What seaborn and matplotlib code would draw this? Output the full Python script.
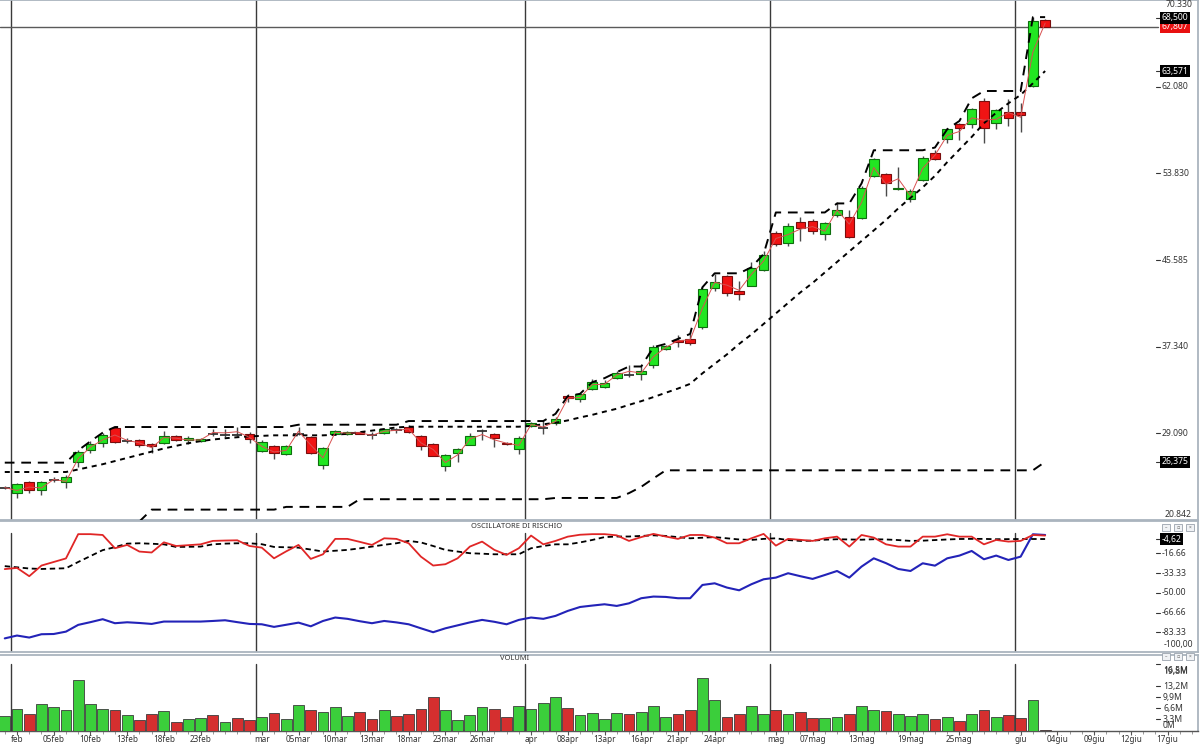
import numpy as np
import pandas as pd
import matplotlib
matplotlib.use("Agg")
import matplotlib.pyplot as plt
import matplotlib.transforms as mtransforms
from matplotlib.patches import Rectangle
import seaborn as sns

# ------------------------------------------------------------------ data
x_labels = ["feb", "05feb", "10feb", "13feb", "18feb", "23feb", "mar", "05mar", "10mar",
            "13mar", "18mar", "23mar", "26mar", "apr", "08apr", "13apr", "16apr", "21apr",
            "24apr", "mag", "07mag", "13mag", "19mag", "25mag", "giu", "04giu", "09giu",
            "12giu", "17giu"]
x_label_pos = [1, 4, 7, 10, 13, 16, 21, 24, 27, 30, 33, 36, 39, 43, 46, 49, 52, 55, 58,
               63, 66, 70, 74, 78, 83, 86, 89, 92, 95]
month_starts = [1, 21, 43, 63, 83]

opens = [23.90, 23.42, 24.43, 23.67, 24.66, 24.46, 26.33, 27.47, 28.20, 29.62,
         28.34, 28.48, 28.10, 28.17, 28.80, 28.42, 28.36, 29.01, 28.95, 28.98,
         29.05, 27.38, 27.85, 27.15, 29.04, 28.74, 26.05, 29.05, 28.99, 29.21,
         28.95, 29.15, 29.38, 29.69, 28.83, 28.10, 26.01, 27.25, 28.01, 29.30,
         29.05, 28.20, 27.63, 29.75, 29.58, 30.10, 32.60, 32.32, 33.33, 33.49,
         34.37, 34.68, 34.69, 35.55, 37.07, 37.98, 38.11, 39.25, 42.92, 44.03,
         42.64, 43.08, 44.67, 48.12, 47.17, 49.16, 49.26, 48.05, 49.89, 49.70,
         49.58, 53.60, 53.75, 52.33, 51.38, 53.18, 55.81, 57.08, 58.57, 58.57,
         60.72, 58.66, 59.71, 59.68, 62.15, 68.38]
highs = [24.05, 24.37, 24.53, 24.53, 24.94, 25.10, 27.47, 28.33, 29.15, 29.69,
         28.67, 28.58, 28.20, 29.28, 28.90, 28.80, 28.67, 29.53, 29.53, 29.69,
         29.21, 28.42, 27.95, 27.95, 29.69, 28.80, 27.79, 29.43, 29.31, 29.31,
         29.21, 29.53, 29.60, 29.85, 28.90, 28.20, 27.15, 27.72, 29.15, 29.53,
         29.15, 28.30, 28.80, 30.15, 30.32, 30.60, 32.80, 32.95, 34.28, 34.12,
         35.00, 35.55, 35.55, 37.45, 37.54, 38.49, 38.55, 42.99, 44.25, 44.19,
         43.62, 45.36, 46.47, 48.37, 49.07, 49.64, 49.48, 49.16, 51.06, 50.33,
         52.65, 55.34, 53.91, 54.39, 52.33, 55.50, 56.04, 58.12, 58.66, 60.09,
         61.04, 59.93, 60.88, 60.56, 68.70, 68.50]
lows = [23.80, 22.94, 23.42, 23.26, 24.46, 23.92, 25.89, 27.22, 27.79, 28.17,
        28.17, 27.79, 27.25, 28.10, 28.36, 28.10, 28.26, 28.80, 28.74, 28.80,
        28.20, 27.28, 26.68, 26.99, 28.90, 27.15, 25.73, 28.95, 28.90, 28.99,
        28.58, 29.05, 29.15, 29.15, 27.47, 26.90, 25.48, 26.36, 27.95, 28.42,
        27.79, 28.00, 27.09, 29.70, 29.05, 29.85, 32.06, 32.06, 33.17, 33.40,
        34.28, 34.44, 34.12, 35.32, 37.00, 37.30, 37.45, 39.03, 42.67, 42.20,
        41.78, 43.08, 44.51, 46.90, 46.94, 47.42, 48.05, 47.49, 49.64, 47.67,
        49.48, 53.44, 51.70, 52.25, 51.06, 53.12, 55.08, 56.76, 56.98, 58.12,
        56.76, 58.03, 58.35, 57.78, 62.05, 67.75]
closes = [23.92, 24.24, 23.67, 24.43, 24.69, 24.94, 27.31, 28.10, 28.93, 28.26,
          28.36, 28.01, 27.88, 28.83, 28.42, 28.64, 28.58, 28.99, 28.97, 28.96,
          28.55, 28.29, 27.25, 27.85, 29.06, 27.25, 27.72, 29.31, 29.21, 29.05,
          28.93, 29.47, 29.36, 29.21, 27.88, 26.90, 27.06, 27.63, 28.83, 29.32,
          28.67, 28.04, 28.67, 30.07, 29.60, 30.42, 32.41, 32.85, 33.96, 33.90,
          34.85, 34.64, 35.00, 37.29, 37.38, 37.76, 37.67, 42.83, 43.46, 42.45,
          42.35, 44.82, 46.06, 47.10, 48.85, 48.62, 48.31, 49.07, 50.33, 47.80,
          52.42, 55.24, 52.96, 52.42, 52.17, 55.34, 55.24, 58.03, 58.19, 59.93,
          58.12, 59.83, 59.08, 59.39, 68.32, 67.807]
volumes = [4.4, 6.5, 5.0, 7.8, 7.0, 6.0, 14.9, 8.0, 6.5, 6.0,
           4.5, 3.1, 4.8, 5.7, 2.6, 3.3, 3.6, 4.5, 2.4, 3.6,
           3.1, 3.9, 5.3, 3.4, 7.7, 6.2, 5.5, 7.0, 4.3, 5.5,
           3.4, 6.0, 4.4, 4.8, 6.5, 10.0, 6.0, 3.1, 4.7, 7.0,
           6.3, 4.1, 7.2, 6.5, 8.2, 10.0, 6.7, 4.7, 5.2, 3.3,
           5.3, 4.8, 5.5, 7.3, 3.9, 4.8, 6.0, 15.6, 9.0, 3.9,
           5.0, 7.2, 4.8, 6.2, 4.8, 5.5, 3.6, 3.6, 3.9, 4.8,
           7.3, 6.2, 5.7, 5.0, 4.4, 5.0, 3.3, 3.9, 2.9, 4.8,
           6.2, 4.1, 4.6, 3.8, 9.0, 0.15]
upper_band = [26.30, 26.30, 26.30, 26.30, 26.30, 26.30, 27.47, 28.33, 29.15, 29.69,
              29.69, 29.69, 29.69, 29.69, 29.69, 29.69, 29.69, 29.69, 29.69, 29.69,
              29.69, 29.69, 29.69, 29.69, 29.91, 29.91, 29.91, 29.91, 29.91, 29.91,
              29.91, 29.91, 29.91, 30.26, 30.26, 30.26, 30.26, 30.26, 30.26, 30.26,
              30.26, 30.26, 30.26, 30.26, 30.26, 30.95, 32.63, 32.85, 33.96, 34.34,
              34.91, 35.45, 35.45, 37.29, 37.60, 38.08, 38.55, 42.99, 44.32, 44.32,
              44.32, 44.89, 46.15, 50.11, 50.11, 50.11, 50.11, 50.11, 50.97, 50.97,
              52.87, 56.03, 56.03, 56.03, 56.03, 56.03, 56.29, 58.03, 58.82, 60.97,
              61.67, 61.67, 61.67, 61.67, 68.70, 68.70]
trail_stop = [25.41, 25.41, 25.41, 25.41, 25.41, 25.41, 25.65, 25.90, 26.15, 26.45,
              26.75, 27.05, 27.35, 27.65, 27.90, 28.15, 28.35, 28.50, 28.62, 28.72,
              28.80, 28.85, 28.90, 28.90, 28.90, 28.90, 28.90, 28.95, 29.05, 29.20,
              29.35, 29.50, 29.65, 29.72, 29.72, 29.72, 29.72, 29.72, 29.72, 29.72,
              29.72, 29.72, 29.72, 29.80, 29.95, 30.10, 30.32, 30.60, 30.85, 31.15,
              31.43, 31.80, 32.15, 32.54, 32.95, 33.35, 33.80, 34.80, 35.70, 36.60,
              37.60, 38.50, 39.50, 40.50, 41.50, 42.50, 43.40, 44.40, 45.40, 46.40,
              47.40, 48.40, 49.40, 50.50, 51.50, 52.50, 53.60, 54.90, 56.10, 57.30,
              58.60, 59.60, 60.50, 61.30, 62.40, 63.571]
lower_band = [np.nan, np.nan, np.nan, np.nan, np.nan, np.nan, np.nan, np.nan, np.nan, np.nan,
              np.nan, 20.70, 21.83, 21.83, 21.83, 21.83, 21.83, 21.83, 21.83, 21.83,
              21.83, 21.83, 21.83, 22.09, 22.09, 22.09, 22.09, 22.09, 22.09, 22.82,
              22.82, 22.82, 22.82, 22.82, 22.82, 22.82, 22.82, 22.82, 22.82, 22.82,
              22.82, 22.82, 22.82, 22.82, 22.82, 22.94, 22.94, 22.94, 22.94, 22.94,
              22.94, 23.40, 24.00, 24.80, 25.57, 25.57, 25.57, 25.57, 25.57, 25.57,
              25.57, 25.57, 25.57, 25.57, 25.57, 25.57, 25.57, 25.57, 25.57, 25.57,
              25.57, 25.57, 25.57, 25.57, 25.57, 25.57, 25.57, 25.57, 25.57, 25.57,
              25.57, 25.57, 25.57, 25.57, 25.57, 26.375]
risk_red = [-30.0, -29.0, -36.0, -27.0, -24.0, -21.0, -0.5, -0.5, -1.2, -12.4,
            -9.6, -15.2, -16.0, -7.4, -10.5, -9.8, -9.1, -6.2, -5.9, -5.7,
            -10.5, -11.9, -20.9, -15.0, -9.6, -21.4, -17.5, -4.5, -4.5, -7.0,
            -9.6, -4.0, -4.5, -8.2, -19.5, -27.0, -25.9, -20.9, -11.0, -6.8,
            -13.8, -18.0, -12.4, -1.7, -9.1, -6.2, -2.6, -1.0, -0.5, -0.5,
            -1.5, -6.2, -3.0, -0.3, -2.5, -4.5, -1.2, -1.2, -3.4, -8.2,
            -8.2, -4.0, -0.3, -10.2, -4.5, -5.3, -6.2, -4.0, -2.6, -11.0,
            -1.2, -3.4, -9.1, -11.0, -11.0, -2.6, -2.6, -0.6, -2.6, -2.6,
            -9.1, -5.4, -6.8, -6.2, -1.2, -1.7]
risk_black = [-27.5, -28.5, -29.5, -29.9, -29.6, -29.3, -24.0, -19.0, -14.0, -11.5,
              -8.5, -8.2, -8.6, -9.1, -11.3, -11.2, -11.0, -9.1, -8.5, -8.2,
              -8.2, -9.0, -11.3, -11.6, -11.9, -13.5, -15.2, -14.5, -13.8, -12.5,
              -11.0, -9.5, -8.2, -6.2, -7.5, -10.5, -13.8, -15.2, -16.6, -17.0,
              -17.5, -17.5, -17.5, -12.4, -10.5, -9.1, -9.1, -7.5, -5.4, -3.0,
              -2.5, -2.5, -2.0, -1.5, -2.0, -3.0, -4.0, -3.5, -3.0, -4.0,
              -5.0, -5.4, -4.5, -4.0, -5.5, -6.2, -6.0, -5.2, -4.8, -5.0,
              -5.2, -4.8, -5.0, -5.5, -6.2, -6.0, -5.5, -5.0, -4.6, -4.5,
              -4.5, -4.8, -4.7, -4.6, -4.6, -4.62]
risk_blue = [-88.5, -86.1, -87.8, -85.0, -84.8, -82.8, -77.1, -74.8, -72.3, -75.7,
             -74.9, -75.5, -76.3, -74.3, -74.3, -74.3, -74.3, -73.8, -73.2, -74.8,
             -76.3, -76.6, -78.8, -77.0, -75.2, -78.3, -73.8, -70.9, -72.0, -74.0,
             -75.7, -73.8, -75.0, -76.6, -80.0, -83.3, -80.0, -77.5, -75.0, -72.9,
             -74.5, -76.6, -72.9, -70.9, -72.0, -69.5, -65.3, -62.0, -60.8, -59.7,
             -61.1, -58.9, -54.6, -53.2, -53.5, -54.6, -54.6, -43.4, -42.0, -45.6,
             -47.9, -42.8, -38.6, -37.2, -33.5, -36.0, -38.3, -35.0, -31.6, -37.2,
             -27.9, -20.9, -25.0, -29.9, -31.6, -25.1, -27.1, -20.9, -18.6, -14.7,
             -21.7, -18.6, -22.3, -19.5, -0.6, -1.2]

price_ticks = [62.080, 53.830, 45.585, 37.340, 29.090]
price_tick_labels = ["62.080", "53.830", "45.585", "37.340", "29.090"]
osc_ticks = [-16.66, -33.33, -50.00, -66.66, -83.33]
osc_tick_labels = ["-16.66", "-33.33", "-50.00", "-66.66", "-83.33"]
vol_ticks = [3.3, 6.6, 9.9, 13.2]
vol_tick_labels = ["3,3M", "6,6M", "9,9M", "13,2M"]

# ------------------------------------------------------------------ style
sns.set_theme(style="white")
plt.rcParams['font.family'] = ['Noto Sans', 'DejaVu Sans']

W, H = 1200, 744
AXW = 1198.0
fig = plt.figure(figsize=(12, 7.44), dpi=100)
fig.patch.set_facecolor("white")


def rect(l, t, r, b):
    return [l / W, 1 - b / H, (r - l) / W, (b - t) / H]


VB = 730.5
axp = fig.add_axes(rect(0, 0, AXW, 520))
axo = fig.add_axes(rect(0, 521, AXW, 652))
axv = fig.add_axes(rect(0, 655, AXW, VB))
XL = (-0.389, 97.49)

GREEN, GREEN_E = "#22e622", "#0e6e0e"
RED, RED_E = "#f01414", "#7a0d0d"

idx = np.arange(len(closes))
o = np.array(opens); c = np.array(closes); h = np.array(highs); l = np.array(lows)
up = c >= o
cross = np.abs(c - o) < 0.06
body = ~cross

# ---------------- price panel
for m in month_starts:
    axp.axvline(m - 0.5, color="#3a3a3a", lw=1.0, zorder=1)
axp.axhline(closes[-1], xmin=0, xmax=1158 / AXW, color="#5a5a5a", lw=1.0, zorder=1)

axp.vlines(idx, l, h, color="#4a4a4a", lw=1.0, zorder=2)
m1 = body & up
m2 = body & ~up
axp.bar(idx[m1], (c - o)[m1], bottom=o[m1], width=0.78, color=GREEN, edgecolor=GREEN_E,
        linewidth=0.8, zorder=3)
axp.bar(idx[m2], (o - c)[m2], bottom=c[m2], width=0.78, color=RED, edgecolor=RED_E,
        linewidth=0.8, zorder=3)
axp.hlines(c[cross], idx[cross] - 0.42, idx[cross] + 0.42, color="#333333", lw=1.3, zorder=3)

mid = (h + l) / 2.0
sns.lineplot(x=idx, y=mid, ax=axp, color="#d85050", lw=0.7, zorder=5)
sns.lineplot(x=idx, y=upper_band, ax=axp, color="black", lw=1.4,
             linestyle=(0, (5, 3.5)), zorder=4)
sns.lineplot(x=idx, y=trail_stop, ax=axp, color="black", lw=1.4,
             linestyle=(0, (2.6, 2.4)), zorder=4)
lb = pd.DataFrame({"i": idx, "v": lower_band}).dropna()
sns.lineplot(data=lb, x="i", y="v", ax=axp, color="black", lw=1.4,
             linestyle=(0, (5, 3.5)), zorder=4)
axp.set_ylim(20.842, 70.33)

# ---------------- oscillator panel
OSC_TOP = 10.6
for m in month_starts:
    axo.axvline(m - 0.5, ymin=0, ymax=0.905, color="#3a3a3a", lw=1.0, zorder=1)
sns.lineplot(x=idx, y=risk_blue, ax=axo, color="#2323b8", lw=1.5, zorder=3)
sns.lineplot(x=idx, y=risk_black, ax=axo, color="black", lw=1.3,
             linestyle=(0, (3, 2)), zorder=4)
sns.lineplot(x=idx, y=risk_red, ax=axo, color="#e02626", lw=1.3, zorder=5)
axo.set_ylim(-100, OSC_TOP)

# ---------------- volume panel
VOL_TOP = (VB - 655) * 0.297
for m in month_starts:
    axv.axvline(m - 0.5, ymin=0, ymax=0.88, color="#3a3a3a", lw=1.0, zorder=1)
vol_df = pd.DataFrame({"idx": idx, "vol": volumes, "dir": np.where(up, "up", "down")})
sns.barplot(data=vol_df, x="idx", y="vol", hue="dir",
            palette={"up": GREEN, "down": RED}, native_scale=True, dodge=False,
            width=0.88, errorbar=None, legend=False, edgecolor="#3c3c3c",
            linewidth=0.6, ax=axv, zorder=3)
axv.set_ylim(0, VOL_TOP)

# ---------------- axes cosmetics
for ax in (axp, axo, axv):
    ax.set_xlim(*XL)
    ax.set_yticks([])
    ax.set_xlabel("")
    ax.set_ylabel("")
    ax.set_facecolor("white")
    for s in ax.spines.values():
        s.set_color("#aab4be")
        s.set_linewidth(1.3)
    ax.spines["left"].set_visible(False)
axp.set_xticks([])
axo.set_xticks([])
axv.spines["bottom"].set_color("#555555")
axv.spines["bottom"].set_linewidth(1.0)
axv.set_xticks(x_label_pos)
axv.set_xticklabels(x_labels, fontsize=5.9, color="#333333")
axv.set_xticks(np.arange(0, 98), minor=True)
axv.tick_params(axis="x", which="major", bottom=True, length=3.0, width=0.8,
                color="#555555", pad=0.3)
axv.tick_params(axis="x", which="minor", bottom=True, length=2, width=0.6, color="#888888")


# ---------------- right-hand labels
def rlabel(ax, y, text, tick=True, ha="left", xpx=1162, color="#333333",
           box=None, tcolor=None, fs=6.2):
    tr = mtransforms.blended_transform_factory(ax.transAxes, ax.transData)
    if tick:
        ax.plot([1156 / AXW, 1160 / AXW], [y, y], transform=tr, color="#333333",
                lw=0.8, clip_on=False, zorder=6)
    kw = {}
    if box is not None:
        kw["bbox"] = dict(boxstyle="square,pad=0.18", fc=box, ec="none")
    ax.text(xpx / AXW, y, text, transform=tr, ha=ha, va="center", fontsize=fs,
            color=tcolor or color, zorder=7, clip_on=False, **kw)


for v, t in zip(price_ticks, price_tick_labels):
    rlabel(axp, v, t)
rlabel(axp, 70.33 - 5 / 10.508, "70.330", tick=False, ha="right", xpx=1192)
rlabel(axp, 20.842 + 6 / 10.508, "20.842", tick=False, ha="right", xpx=1192)
rlabel(axp, 67.807, "67,807", tick=False, box="#e81010", tcolor="white")
rlabel(axp, 68.5 + 0.15, "68,500", box="black", tcolor="white")
rlabel(axp, 63.571, "63,571", box="black", tcolor="white")
rlabel(axp, 26.375, "26,375", box="black", tcolor="white")

for v, t in zip(osc_ticks, osc_tick_labels):
    rlabel(axo, v, t)
rlabel(axo, -94.0, "-100,00", tick=False, ha="right", xpx=1193)
rlabel(axo, -4.62, "-4,62", box="black", tcolor="white")

for v, t in zip(vol_ticks, vol_tick_labels):
    rlabel(axv, v, t, xpx=1163)
rlabel(axv, 19.8, "", xpx=1163)
rlabel(axv, 17.9, "16,5M", tick=False, xpx=1163)
rlabel(axv, 17.4, "19,8M", tick=False, xpx=1163)
rlabel(axv, 1.6, "0M", tick=False, xpx=1163)

# panel titles
fig.text(517 / W, 1 - 526 / H, "OSCILLATORE DI RISCHIO", ha="center", va="center",
         fontsize=5.4, color="#333333")
fig.text(515 / W, 1 - 658.5 / H, "VOLUMI", ha="center", va="center",
         fontsize=5.4, color="#333333")

# little window buttons
for top in (524, 653):
    for x0, sym in ((1162, "–"), (1174, "▫"), (1186, "×")):
        fig.add_artist(Rectangle((x0 / W, 1 - (top + 7) / H), 8 / W, 7 / H,
                                 transform=fig.transFigure, fc="#f0f2f5",
                                 ec="#9aa3ad", lw=0.6))
        fig.text((x0 + 4) / W, 1 - (top + 3.5) / H, sym, ha="center", va="center",
                 fontsize=3.5, color="#666666")

fig.savefig("out.png", dpi=100, facecolor="white")
